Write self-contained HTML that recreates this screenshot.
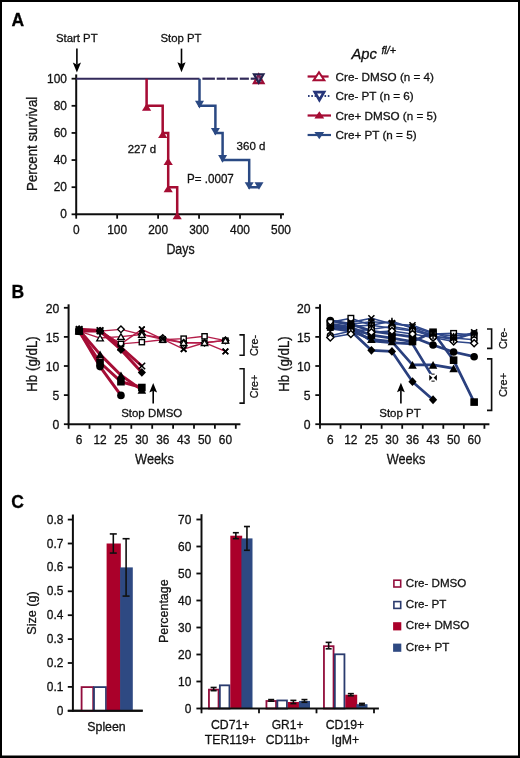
<!DOCTYPE html><html><head><meta charset="utf-8"><title>Figure</title>
<style>html,body{margin:0;padding:0;background:#fff;}body{width:520px;height:758px;overflow:hidden;}svg{display:block;font-family:"Liberation Sans", sans-serif;}text{stroke:#000;stroke-width:0.28px;}</style>
</head><body>
<svg width="520" height="758" viewBox="0 0 520 758" fill="#1a1a1a">
<rect x="0" y="0" width="520" height="758" fill="#fff" stroke="none" stroke-width="1" />
<defs><filter id="b" x="0" y="0" width="520" height="758" filterUnits="userSpaceOnUse"><feGaussianBlur stdDeviation="0.4"/></filter></defs>
<g filter="url(#b)">
<text x="11.4" y="26.3" font-size="17.5" font-weight="bold" fill="#000" >A</text>
<text x="11.6" y="297.6" font-size="17.5" font-weight="bold" fill="#000" >B</text>
<text x="11.2" y="507.6" font-size="17.5" font-weight="bold" fill="#000" >C</text>
<line x1="76.2" y1="74.4" x2="76.2" y2="215.3" stroke="#111" stroke-width="2" />
<line x1="75.2" y1="214.3" x2="284" y2="214.3" stroke="#111" stroke-width="2" />
<line x1="71.6" y1="214.3" x2="76.2" y2="214.3" stroke="#111" stroke-width="1.8" />
<text x="66.9" y="218.3" font-size="11.9" text-anchor="end" >0</text>
<line x1="71.6" y1="187.18" x2="76.2" y2="187.18" stroke="#111" stroke-width="1.8" />
<text x="66.9" y="191.18" font-size="11.9" text-anchor="end" >20</text>
<line x1="71.6" y1="160.06" x2="76.2" y2="160.06" stroke="#111" stroke-width="1.8" />
<text x="66.9" y="164.06" font-size="11.9" text-anchor="end" >40</text>
<line x1="71.6" y1="132.94" x2="76.2" y2="132.94" stroke="#111" stroke-width="1.8" />
<text x="66.9" y="136.94" font-size="11.9" text-anchor="end" >60</text>
<line x1="71.6" y1="105.82" x2="76.2" y2="105.82" stroke="#111" stroke-width="1.8" />
<text x="66.9" y="109.82" font-size="11.9" text-anchor="end" >80</text>
<line x1="71.6" y1="78.7" x2="76.2" y2="78.7" stroke="#111" stroke-width="1.8" />
<text x="66.9" y="82.7" font-size="11.9" text-anchor="end" >100</text>
<line x1="76.2" y1="214.3" x2="76.2" y2="218.7" stroke="#111" stroke-width="1.8" />
<text x="76.2" y="233.5" font-size="11.9" text-anchor="middle" >0</text>
<line x1="117.15" y1="214.3" x2="117.15" y2="218.7" stroke="#111" stroke-width="1.8" />
<text x="117.15" y="233.5" font-size="11.9" text-anchor="middle" >100</text>
<line x1="158.1" y1="214.3" x2="158.1" y2="218.7" stroke="#111" stroke-width="1.8" />
<text x="158.1" y="233.5" font-size="11.9" text-anchor="middle" >200</text>
<line x1="199.05" y1="214.3" x2="199.05" y2="218.7" stroke="#111" stroke-width="1.8" />
<text x="199.05" y="233.5" font-size="11.9" text-anchor="middle" >300</text>
<line x1="240" y1="214.3" x2="240" y2="218.7" stroke="#111" stroke-width="1.8" />
<text x="240" y="233.5" font-size="11.9" text-anchor="middle" >400</text>
<line x1="280.95" y1="214.3" x2="280.95" y2="218.7" stroke="#111" stroke-width="1.8" />
<text x="280.95" y="233.5" font-size="11.9" text-anchor="middle" >500</text>
<text x="180.5" y="254.4" font-size="14.2" text-anchor="middle" textLength="28.2" lengthAdjust="spacingAndGlyphs" >Days</text>
<text x="0" y="0" font-size="14.5" text-anchor="middle" textLength="94.2" lengthAdjust="spacingAndGlyphs" transform="translate(36.8 143.8) rotate(-90)" >Percent survival</text>
<text x="76.8" y="41.5" font-size="11.7" text-anchor="middle" textLength="41.6" lengthAdjust="spacingAndGlyphs" >Start PT</text>
<line x1="76.9" y1="48.6" x2="76.9" y2="64.6" stroke="#000" stroke-width="1.6" />
<path d="M72.8 62.6L76.9 72.6L81 62.6L76.9 64.4Z" fill="#000" stroke="none" stroke-width="1" />
<text x="181" y="41.9" font-size="11.7" text-anchor="middle" textLength="41" lengthAdjust="spacingAndGlyphs" >Stop PT</text>
<line x1="181.5" y1="48.6" x2="181.5" y2="64.3" stroke="#000" stroke-width="1.6" />
<path d="M177.4 62.3L181.5 72.3L185.6 62.3L181.5 64.1Z" fill="#000" stroke="none" stroke-width="1" />
<line x1="76.2" y1="78.7" x2="199.5" y2="78.7" stroke="#322a5a" stroke-width="2.1" />
<line x1="202.4" y1="78.7" x2="214.9" y2="78.7" stroke="#322a5a" stroke-width="2.2" />
<line x1="216.7" y1="78.7" x2="225.3" y2="78.7" stroke="#322a5a" stroke-width="2.2" />
<line x1="226.9" y1="78.7" x2="237.9" y2="78.7" stroke="#322a5a" stroke-width="2.2" />
<line x1="239.8" y1="78.7" x2="248.9" y2="78.7" stroke="#322a5a" stroke-width="2.2" />
<line x1="250.7" y1="78.7" x2="256" y2="78.7" stroke="#322a5a" stroke-width="2.2" />
<polyline points="146.6,78.7 146.6,105.82 162.7,105.82 162.7,132.94 168.2,132.94 168.2,187.18 177.2,187.18 177.2,214.3" stroke="#a50832" stroke-width="2.5" fill="none" stroke-linejoin="miter"/>
<path d="M146.6 103.62L151.2 110.82L142 110.82Z" fill="#a50832" stroke="none" stroke-width="0" stroke-linejoin="miter"/>
<path d="M162.7 130.74L167.3 137.94L158.1 137.94Z" fill="#a50832" stroke="none" stroke-width="0" stroke-linejoin="miter"/>
<path d="M168.2 157.86L172.8 165.06L163.6 165.06Z" fill="#a50832" stroke="none" stroke-width="0" stroke-linejoin="miter"/>
<path d="M168.2 184.98L172.8 192.18L163.6 192.18Z" fill="#a50832" stroke="none" stroke-width="0" stroke-linejoin="miter"/>
<path d="M177.2 212.1L181.8 219.3L172.6 219.3Z" fill="#a50832" stroke="none" stroke-width="0" stroke-linejoin="miter"/>
<polyline points="199.5,78.7 199.5,105.82 215.4,105.82 215.4,132.94 222.6,132.94 222.6,160.06 249.2,160.06 249.2,187.18 259,187.18" stroke="#2b4983" stroke-width="2.5" fill="none" stroke-linejoin="miter"/>
<path d="M195 100.82L204 100.82L199.5 108.42Z" fill="#2b4983" stroke="none" stroke-width="0" stroke-linejoin="miter"/>
<path d="M210.9 127.94L219.9 127.94L215.4 135.54Z" fill="#2b4983" stroke="none" stroke-width="0" stroke-linejoin="miter"/>
<path d="M218.1 155.06L227.1 155.06L222.6 162.66Z" fill="#2b4983" stroke="none" stroke-width="0" stroke-linejoin="miter"/>
<path d="M244.7 182.18L253.7 182.18L249.2 189.78Z" fill="#2b4983" stroke="none" stroke-width="0" stroke-linejoin="miter"/>
<path d="M254.5 182.18L263.5 182.18L259 189.78Z" fill="#2b4983" stroke="none" stroke-width="0" stroke-linejoin="miter"/>
<path d="M258.7 74.6L263.5 83.2L253.9 83.2Z" fill="rgba(120,70,130,0.45)" stroke="#9c0c36" stroke-width="2.2" stroke-linejoin="miter"/>
<path d="M253.9 74.2L263.5 74.2L258.7 82.8Z" fill="rgba(90,60,120,0.45)" stroke="#23244e" stroke-width="2.1" stroke-linejoin="miter"/>
<text x="141.9" y="153" font-size="11.7" text-anchor="middle" textLength="28.5" lengthAdjust="spacingAndGlyphs" >227 d</text>
<text x="251" y="149.6" font-size="11.7" text-anchor="middle" textLength="28.8" lengthAdjust="spacingAndGlyphs" >360 d</text>
<text x="210.4" y="182.5" font-size="11.9" text-anchor="middle" textLength="46.8" lengthAdjust="spacingAndGlyphs" >P= .0007</text>
<text x="351.4" y="59.3" font-size="14.6" textLength="25.4" lengthAdjust="spacingAndGlyphs" font-style="italic" fill="#111" >Apc</text>
<text x="381.4" y="54.4" font-size="10.2" textLength="14.6" lengthAdjust="spacingAndGlyphs" font-style="italic" fill="#111" >fl/+</text>
<line x1="307.6" y1="76.5" x2="328.6" y2="76.5" stroke="#a50832" stroke-width="2.2" />
<path d="M319 72.2L324.3 80.2L313.7 80.2Z" fill="#fff" stroke="#a50832" stroke-width="2" stroke-linejoin="miter"/>
<line x1="308" y1="96" x2="331" y2="96" stroke="#2d3f7a" stroke-width="1.8" stroke-dasharray="1.6 1.7"/>
<path d="M314.8 92.2L324 92.2L319.4 100Z" fill="#fff" stroke="#25357a" stroke-width="2.7" stroke-linejoin="miter"/>
<line x1="307.6" y1="115.5" x2="331" y2="115.5" stroke="#a50832" stroke-width="2.2" />
<path d="M319.3 111.2L324.2 118.6L314.4 118.6Z" fill="#a50832" stroke="none" stroke-width="0" stroke-linejoin="miter"/>
<line x1="307.6" y1="135" x2="331" y2="135" stroke="#2b4983" stroke-width="2.2" />
<path d="M314.4 131.9L324.2 131.9L319.3 139.3Z" fill="#2b4983" stroke="none" stroke-width="0" stroke-linejoin="miter"/>
<text x="335.6" y="80.8" font-size="11.7" >Cre- DMSO (n = 4)</text>
<text x="335.6" y="100.3" font-size="11.7" >Cre- PT (n = 6)</text>
<text x="335.6" y="119.8" font-size="11.7" >Cre+ DMSO (n = 5)</text>
<text x="335.6" y="139.3" font-size="11.7" >Cre+ PT (n = 5)</text>
<line x1="68.6" y1="304.3" x2="68.6" y2="425" stroke="#111" stroke-width="2" />
<line x1="63.9" y1="424.2" x2="68.6" y2="424.2" stroke="#111" stroke-width="1.8" />
<text x="59.2" y="429" font-size="12.2" text-anchor="end" >0</text>
<line x1="63.9" y1="395.1" x2="68.6" y2="395.1" stroke="#111" stroke-width="1.8" />
<text x="59.2" y="399.9" font-size="12.2" text-anchor="end" >5</text>
<line x1="63.9" y1="366" x2="68.6" y2="366" stroke="#111" stroke-width="1.8" />
<text x="59.2" y="370.8" font-size="12.2" text-anchor="end" >10</text>
<line x1="63.9" y1="336.9" x2="68.6" y2="336.9" stroke="#111" stroke-width="1.8" />
<text x="59.2" y="341.7" font-size="12.2" text-anchor="end" >15</text>
<line x1="63.9" y1="307.8" x2="68.6" y2="307.8" stroke="#111" stroke-width="1.8" />
<text x="59.2" y="312.6" font-size="12.2" text-anchor="end" >20</text>
<line x1="67.6" y1="424.2" x2="240.4" y2="424.2" stroke="#111" stroke-width="2" />
<line x1="68.6" y1="424.2" x2="68.6" y2="428.8" stroke="#111" stroke-width="1.8" />
<line x1="89.5" y1="424.2" x2="89.5" y2="428.8" stroke="#111" stroke-width="1.8" />
<line x1="110.4" y1="424.2" x2="110.4" y2="428.8" stroke="#111" stroke-width="1.8" />
<line x1="131.3" y1="424.2" x2="131.3" y2="428.8" stroke="#111" stroke-width="1.8" />
<line x1="152.2" y1="424.2" x2="152.2" y2="428.8" stroke="#111" stroke-width="1.8" />
<line x1="173.1" y1="424.2" x2="173.1" y2="428.8" stroke="#111" stroke-width="1.8" />
<line x1="194" y1="424.2" x2="194" y2="428.8" stroke="#111" stroke-width="1.8" />
<line x1="214.9" y1="424.2" x2="214.9" y2="428.8" stroke="#111" stroke-width="1.8" />
<line x1="235.8" y1="424.2" x2="235.8" y2="428.8" stroke="#111" stroke-width="1.8" />
<text x="79.15" y="444" font-size="11.9" text-anchor="middle" >6</text>
<text x="100.05" y="444" font-size="11.9" text-anchor="middle" >12</text>
<text x="120.95" y="444" font-size="11.9" text-anchor="middle" >25</text>
<text x="141.85" y="444" font-size="11.9" text-anchor="middle" >30</text>
<text x="162.75" y="444" font-size="11.9" text-anchor="middle" >36</text>
<text x="183.65" y="444" font-size="11.9" text-anchor="middle" >43</text>
<text x="204.55" y="444" font-size="11.9" text-anchor="middle" >50</text>
<text x="225.45" y="444" font-size="11.9" text-anchor="middle" >60</text>
<text x="154.5" y="464.4" font-size="14.8" text-anchor="middle" textLength="38.8" lengthAdjust="spacingAndGlyphs" >Weeks</text>
<text x="0" y="0" font-size="14.4" text-anchor="middle" textLength="55.6" lengthAdjust="spacingAndGlyphs" transform="translate(36.9 364) rotate(-90)" >Hb (g/dL)</text>
<polyline points="79.15,329.33 100.05,331.08 120.95,343.88 141.85,329.33 162.75,339.23 183.65,349.12 204.55,342.72 225.45,351.45" stroke="#b41e4a" stroke-width="1.4" fill="none" stroke-linejoin="round"/>
<polyline points="79.15,331.08 100.05,331.08 120.95,343.88 141.85,342.14 162.75,339.81 183.65,338.65 204.55,336.32 225.45,340.68" stroke="#b41e4a" stroke-width="1.4" fill="none" stroke-linejoin="round"/>
<polyline points="79.15,329.33 100.05,331.08 120.95,329.33 141.85,334.57 162.75,338.06 183.65,342.72 204.55,342.72 225.45,340.39" stroke="#b41e4a" stroke-width="1.4" fill="none" stroke-linejoin="round"/>
<polyline points="79.15,331.08 100.05,338.06 120.95,336.61 141.85,334.57 162.75,339.23 183.65,342.72 204.55,342.72 225.45,340.39" stroke="#b41e4a" stroke-width="1.4" fill="none" stroke-linejoin="round"/>
<polyline points="79.15,331.08 100.05,366.58 120.95,395.39" stroke="#a50a36" stroke-width="3" fill="none" stroke-linejoin="round"/>
<polyline points="79.15,329.92 100.05,354.36 120.95,375.31 141.85,389.86" stroke="#a50a36" stroke-width="3" fill="none" stroke-linejoin="round"/>
<polyline points="79.15,331.08 100.05,362.51 120.95,381.71 141.85,387.53" stroke="#a50a36" stroke-width="3" fill="none" stroke-linejoin="round"/>
<polyline points="79.15,331.08 100.05,331.08 120.95,349.7 141.85,372.4" stroke="#a50a36" stroke-width="3" fill="none" stroke-linejoin="round"/>
<polyline points="79.15,329.33 100.05,330.5 120.95,347.38 141.85,366" stroke="#a50a36" stroke-width="3" fill="none" stroke-linejoin="round"/>
<line x1="76.35" y1="326.53" x2="81.95" y2="332.13" stroke="#000" stroke-width="1.6" />
<line x1="76.35" y1="332.13" x2="81.95" y2="326.53" stroke="#000" stroke-width="1.6" />
<line x1="97.25" y1="328.28" x2="102.85" y2="333.88" stroke="#000" stroke-width="1.6" />
<line x1="97.25" y1="333.88" x2="102.85" y2="328.28" stroke="#000" stroke-width="1.6" />
<line x1="118.15" y1="341.08" x2="123.75" y2="346.68" stroke="#000" stroke-width="1.6" />
<line x1="118.15" y1="346.68" x2="123.75" y2="341.08" stroke="#000" stroke-width="1.6" />
<line x1="139.05" y1="326.53" x2="144.65" y2="332.13" stroke="#000" stroke-width="1.6" />
<line x1="139.05" y1="332.13" x2="144.65" y2="326.53" stroke="#000" stroke-width="1.6" />
<line x1="159.95" y1="336.43" x2="165.55" y2="342.03" stroke="#000" stroke-width="1.6" />
<line x1="159.95" y1="342.03" x2="165.55" y2="336.43" stroke="#000" stroke-width="1.6" />
<line x1="180.85" y1="346.32" x2="186.45" y2="351.92" stroke="#000" stroke-width="1.6" />
<line x1="180.85" y1="351.92" x2="186.45" y2="346.32" stroke="#000" stroke-width="1.6" />
<line x1="201.75" y1="339.92" x2="207.35" y2="345.52" stroke="#000" stroke-width="1.6" />
<line x1="201.75" y1="345.52" x2="207.35" y2="339.92" stroke="#000" stroke-width="1.6" />
<line x1="222.65" y1="348.65" x2="228.25" y2="354.25" stroke="#000" stroke-width="1.6" />
<line x1="222.65" y1="354.25" x2="228.25" y2="348.65" stroke="#000" stroke-width="1.6" />
<rect x="76.55" y="328.48" width="5.2" height="5.2" fill="#fff" stroke="#000" stroke-width="1.4" />
<rect x="97.45" y="328.48" width="5.2" height="5.2" fill="#fff" stroke="#000" stroke-width="1.4" />
<rect x="118.35" y="341.28" width="5.2" height="5.2" fill="#fff" stroke="#000" stroke-width="1.4" />
<rect x="139.25" y="339.54" width="5.2" height="5.2" fill="#fff" stroke="#000" stroke-width="1.4" />
<rect x="160.15" y="337.21" width="5.2" height="5.2" fill="#fff" stroke="#000" stroke-width="1.4" />
<rect x="181.05" y="336.05" width="5.2" height="5.2" fill="#fff" stroke="#000" stroke-width="1.4" />
<rect x="201.95" y="333.72" width="5.2" height="5.2" fill="#fff" stroke="#000" stroke-width="1.4" />
<rect x="222.85" y="338.08" width="5.2" height="5.2" fill="#fff" stroke="#000" stroke-width="1.4" />
<path d="M79.15 326.03L82.45 329.33L79.15 332.63L75.85 329.33Z" fill="#fff" stroke="#000" stroke-width="1.4" />
<path d="M100.05 327.78L103.35 331.08L100.05 334.38L96.75 331.08Z" fill="#fff" stroke="#000" stroke-width="1.4" />
<path d="M120.95 326.03L124.25 329.33L120.95 332.63L117.65 329.33Z" fill="#fff" stroke="#000" stroke-width="1.4" />
<path d="M141.85 331.27L145.15 334.57L141.85 337.87L138.55 334.57Z" fill="#fff" stroke="#000" stroke-width="1.4" />
<path d="M162.75 334.76L166.05 338.06L162.75 341.36L159.45 338.06Z" fill="#fff" stroke="#000" stroke-width="1.4" />
<path d="M183.65 339.42L186.95 342.72L183.65 346.02L180.35 342.72Z" fill="#fff" stroke="#000" stroke-width="1.4" />
<path d="M204.55 339.42L207.85 342.72L204.55 346.02L201.25 342.72Z" fill="#fff" stroke="#000" stroke-width="1.4" />
<path d="M225.45 337.09L228.75 340.39L225.45 343.69L222.15 340.39Z" fill="#fff" stroke="#000" stroke-width="1.4" />
<path d="M79.15 328.28L82.45 333.88L75.85 333.88Z" fill="#fff" stroke="#000" stroke-width="1.3" stroke-linejoin="miter"/>
<path d="M100.05 335.26L103.35 340.86L96.75 340.86Z" fill="#fff" stroke="#000" stroke-width="1.3" stroke-linejoin="miter"/>
<path d="M120.95 333.81L124.25 339.41L117.65 339.41Z" fill="#fff" stroke="#000" stroke-width="1.3" stroke-linejoin="miter"/>
<path d="M141.85 331.77L145.15 337.37L138.55 337.37Z" fill="#fff" stroke="#000" stroke-width="1.3" stroke-linejoin="miter"/>
<path d="M162.75 336.43L166.05 342.03L159.45 342.03Z" fill="#fff" stroke="#000" stroke-width="1.3" stroke-linejoin="miter"/>
<path d="M183.65 339.92L186.95 345.52L180.35 345.52Z" fill="#fff" stroke="#000" stroke-width="1.3" stroke-linejoin="miter"/>
<path d="M204.55 339.92L207.85 345.52L201.25 345.52Z" fill="#fff" stroke="#000" stroke-width="1.3" stroke-linejoin="miter"/>
<path d="M225.45 337.59L228.75 343.19L222.15 343.19Z" fill="#fff" stroke="#000" stroke-width="1.3" stroke-linejoin="miter"/>
<line x1="139.05" y1="326.53" x2="144.65" y2="332.13" stroke="#000" stroke-width="1.6" />
<line x1="139.05" y1="332.13" x2="144.65" y2="326.53" stroke="#000" stroke-width="1.6" />
<line x1="159.95" y1="336.43" x2="165.55" y2="342.03" stroke="#000" stroke-width="1.6" />
<line x1="159.95" y1="342.03" x2="165.55" y2="336.43" stroke="#000" stroke-width="1.6" />
<line x1="180.85" y1="346.32" x2="186.45" y2="351.92" stroke="#000" stroke-width="1.6" />
<line x1="180.85" y1="351.92" x2="186.45" y2="346.32" stroke="#000" stroke-width="1.6" />
<line x1="222.65" y1="348.65" x2="228.25" y2="354.25" stroke="#000" stroke-width="1.6" />
<line x1="222.65" y1="354.25" x2="228.25" y2="348.65" stroke="#000" stroke-width="1.6" />
<circle cx="79.15" cy="331.08" r="3.8" fill="#000"/>
<circle cx="100.05" cy="366.58" r="3.8" fill="#000"/>
<circle cx="120.95" cy="395.39" r="3.8" fill="#000"/>
<path d="M79.15 326.12L83.45 333.72L74.85 333.72Z" fill="#000" stroke="none" stroke-width="0" stroke-linejoin="miter"/>
<path d="M100.05 350.56L104.35 358.16L95.75 358.16Z" fill="#000" stroke="none" stroke-width="0" stroke-linejoin="miter"/>
<path d="M120.95 371.51L125.25 379.11L116.65 379.11Z" fill="#000" stroke="none" stroke-width="0" stroke-linejoin="miter"/>
<path d="M141.85 386.06L146.15 393.66L137.55 393.66Z" fill="#000" stroke="none" stroke-width="0" stroke-linejoin="miter"/>
<rect x="75.35" y="327.28" width="7.6" height="7.6" fill="#000" stroke="none" stroke-width="1" />
<rect x="96.25" y="358.71" width="7.6" height="7.6" fill="#000" stroke="none" stroke-width="1" />
<rect x="117.15" y="377.91" width="7.6" height="7.6" fill="#000" stroke="none" stroke-width="1" />
<rect x="138.05" y="383.73" width="7.6" height="7.6" fill="#000" stroke="none" stroke-width="1" />
<path d="M79.15 326.68L83.25 331.08L79.15 335.48L75.05 331.08Z" fill="#000" stroke="none" stroke-width="1" />
<path d="M100.05 326.68L104.15 331.08L100.05 335.48L95.95 331.08Z" fill="#000" stroke="none" stroke-width="1" />
<path d="M120.95 345.3L125.05 349.7L120.95 354.1L116.85 349.7Z" fill="#000" stroke="none" stroke-width="1" />
<path d="M141.85 368L145.95 372.4L141.85 376.8L137.75 372.4Z" fill="#000" stroke="none" stroke-width="1" />
<line x1="75.85" y1="326.03" x2="82.45" y2="332.63" stroke="#000" stroke-width="1.6" />
<line x1="75.85" y1="332.63" x2="82.45" y2="326.03" stroke="#000" stroke-width="1.6" />
<line x1="96.75" y1="327.2" x2="103.35" y2="333.8" stroke="#000" stroke-width="1.6" />
<line x1="96.75" y1="333.8" x2="103.35" y2="327.2" stroke="#000" stroke-width="1.6" />
<line x1="117.65" y1="344.08" x2="124.25" y2="350.68" stroke="#000" stroke-width="1.6" />
<line x1="117.65" y1="350.68" x2="124.25" y2="344.08" stroke="#000" stroke-width="1.6" />
<line x1="138.55" y1="362.7" x2="145.15" y2="369.3" stroke="#000" stroke-width="1.6" />
<line x1="138.55" y1="369.3" x2="145.15" y2="362.7" stroke="#000" stroke-width="1.6" />
<line x1="153.2" y1="390.5" x2="153.2" y2="403.5" stroke="#000" stroke-width="1.6" />
<path d="M149.3 392.5L153.2 383L157.1 392.5L153.2 390.79Z" fill="#000" stroke="none" stroke-width="1" />
<text x="151.7" y="416.8" font-size="11.6" text-anchor="middle" textLength="61" lengthAdjust="spacingAndGlyphs" >Stop DMSO</text>
<polyline points="239.4,334.9 244,334.9 244,355.2 239.4,355.2" stroke="#111" stroke-width="1.6" fill="none" stroke-linejoin="miter"/>
<polyline points="239.4,368.7 244,368.7 244,403.1 239.4,403.1" stroke="#111" stroke-width="1.6" fill="none" stroke-linejoin="miter"/>
<text x="0" y="0" font-size="11.5" text-anchor="middle" textLength="21" lengthAdjust="spacingAndGlyphs" transform="translate(258.3 345.5) rotate(-90)" >Cre-</text>
<text x="0" y="0" font-size="11.5" text-anchor="middle" textLength="23.4" lengthAdjust="spacingAndGlyphs" transform="translate(258.3 386.5) rotate(-90)" >Cre+</text>
<line x1="320" y1="304.3" x2="320" y2="425" stroke="#111" stroke-width="2" />
<line x1="315.3" y1="424.2" x2="320" y2="424.2" stroke="#111" stroke-width="1.8" />
<text x="310.6" y="429" font-size="12.2" text-anchor="end" >0</text>
<line x1="315.3" y1="395.1" x2="320" y2="395.1" stroke="#111" stroke-width="1.8" />
<text x="310.6" y="399.9" font-size="12.2" text-anchor="end" >5</text>
<line x1="315.3" y1="366" x2="320" y2="366" stroke="#111" stroke-width="1.8" />
<text x="310.6" y="370.8" font-size="12.2" text-anchor="end" >10</text>
<line x1="315.3" y1="336.9" x2="320" y2="336.9" stroke="#111" stroke-width="1.8" />
<text x="310.6" y="341.7" font-size="12.2" text-anchor="end" >15</text>
<line x1="315.3" y1="307.8" x2="320" y2="307.8" stroke="#111" stroke-width="1.8" />
<text x="310.6" y="312.6" font-size="12.2" text-anchor="end" >20</text>
<line x1="319" y1="424.2" x2="489.4" y2="424.2" stroke="#111" stroke-width="2" />
<line x1="320" y1="424.2" x2="320" y2="428.8" stroke="#111" stroke-width="1.8" />
<line x1="340.55" y1="424.2" x2="340.55" y2="428.8" stroke="#111" stroke-width="1.8" />
<line x1="361.1" y1="424.2" x2="361.1" y2="428.8" stroke="#111" stroke-width="1.8" />
<line x1="381.65" y1="424.2" x2="381.65" y2="428.8" stroke="#111" stroke-width="1.8" />
<line x1="402.2" y1="424.2" x2="402.2" y2="428.8" stroke="#111" stroke-width="1.8" />
<line x1="422.75" y1="424.2" x2="422.75" y2="428.8" stroke="#111" stroke-width="1.8" />
<line x1="443.3" y1="424.2" x2="443.3" y2="428.8" stroke="#111" stroke-width="1.8" />
<line x1="463.85" y1="424.2" x2="463.85" y2="428.8" stroke="#111" stroke-width="1.8" />
<line x1="484.4" y1="424.2" x2="484.4" y2="428.8" stroke="#111" stroke-width="1.8" />
<text x="330.3" y="444" font-size="11.9" text-anchor="middle" >6</text>
<text x="350.85" y="444" font-size="11.9" text-anchor="middle" >12</text>
<text x="371.4" y="444" font-size="11.9" text-anchor="middle" >25</text>
<text x="391.95" y="444" font-size="11.9" text-anchor="middle" >30</text>
<text x="412.5" y="444" font-size="11.9" text-anchor="middle" >36</text>
<text x="433.05" y="444" font-size="11.9" text-anchor="middle" >43</text>
<text x="453.6" y="444" font-size="11.9" text-anchor="middle" >50</text>
<text x="474.15" y="444" font-size="11.9" text-anchor="middle" >60</text>
<text x="406" y="464.4" font-size="14.8" text-anchor="middle" textLength="38.6" lengthAdjust="spacingAndGlyphs" >Weeks</text>
<text x="0" y="0" font-size="14.4" text-anchor="middle" textLength="55.6" lengthAdjust="spacingAndGlyphs" transform="translate(288.9 364) rotate(-90)" >Hb (g/dL)</text>
<polyline points="330.3,322.35 350.85,318.28 371.4,325.26 391.95,328.17 412.5,331.08 433.05,333.99 453.6,333.41 474.15,335.15" stroke="#2f4789" stroke-width="1.6" fill="none" stroke-linejoin="round"/>
<polyline points="330.3,335.74 350.85,331.08 371.4,329.33 391.95,326.42 412.5,329.92 433.05,336.9 453.6,338.06 474.15,339.81" stroke="#2f4789" stroke-width="1.6" fill="none" stroke-linejoin="round"/>
<polyline points="330.3,325.26 350.85,322.35 371.4,318.28 391.95,324.1 412.5,325.26 433.05,332.83 453.6,339.23 474.15,332.24" stroke="#2f4789" stroke-width="1.6" fill="none" stroke-linejoin="round"/>
<polyline points="330.3,327.59 350.85,324.1 371.4,321.77 391.95,322.93 412.5,327.01 433.05,333.41 453.6,336.32 474.15,333.41" stroke="#2f4789" stroke-width="1.6" fill="none" stroke-linejoin="round"/>
<polyline points="330.3,337.48 350.85,333.99 371.4,332.24 391.95,331.08 412.5,333.99 433.05,337.48 453.6,341.56 474.15,343.3" stroke="#2f4789" stroke-width="1.6" fill="none" stroke-linejoin="round"/>
<polyline points="330.3,329.92 350.85,326.42 371.4,325.26 391.95,321.19 412.5,328.17 433.05,335.74 453.6,339.81 474.15,333.41" stroke="#2f4789" stroke-width="1.6" fill="none" stroke-linejoin="round"/>
<polyline points="330.3,328.17 350.85,331.08 371.4,350.29 391.95,351.45 412.5,381.71 433.05,399.76" stroke="#293f7e" stroke-width="2.7" fill="none" stroke-linejoin="round"/>
<polyline points="330.3,325.26 350.85,331.08 371.4,339.23 391.95,341.56 412.5,364.84 433.05,364.84 453.6,368.33" stroke="#293f7e" stroke-width="2.7" fill="none" stroke-linejoin="round"/>
<polyline points="330.3,326.42 350.85,328.17 371.4,340.97 391.95,342.72 412.5,343.88 433.05,377.64" stroke="#293f7e" stroke-width="2.7" fill="none" stroke-linejoin="round"/>
<polyline points="330.3,320.6 350.85,324.1 371.4,331.08 391.95,333.99 412.5,336.9 433.05,345.05 453.6,352.03 474.15,356.69" stroke="#293f7e" stroke-width="2.7" fill="none" stroke-linejoin="round"/>
<polyline points="330.3,324.1 350.85,327.59 371.4,335.15 391.95,338.06 412.5,341.56 433.05,332.24 453.6,360.18 474.15,402.08" stroke="#293f7e" stroke-width="2.7" fill="none" stroke-linejoin="round"/>
<path d="M330.3 323.77L334.4 328.17L330.3 332.57L326.2 328.17Z" fill="#000" stroke="none" stroke-width="1" />
<path d="M350.85 326.68L354.95 331.08L350.85 335.48L346.75 331.08Z" fill="#000" stroke="none" stroke-width="1" />
<path d="M371.4 345.89L375.5 350.29L371.4 354.69L367.3 350.29Z" fill="#000" stroke="none" stroke-width="1" />
<path d="M391.95 347.05L396.05 351.45L391.95 355.85L387.85 351.45Z" fill="#000" stroke="none" stroke-width="1" />
<path d="M412.5 377.31L416.6 381.71L412.5 386.11L408.4 381.71Z" fill="#000" stroke="none" stroke-width="1" />
<path d="M433.05 395.36L437.15 399.76L433.05 404.16L428.95 399.76Z" fill="#000" stroke="none" stroke-width="1" />
<path d="M330.3 321.46L334.6 329.06L326 329.06Z" fill="#000" stroke="none" stroke-width="0" stroke-linejoin="miter"/>
<path d="M350.85 327.28L355.15 334.88L346.55 334.88Z" fill="#000" stroke="none" stroke-width="0" stroke-linejoin="miter"/>
<path d="M371.4 335.43L375.7 343.03L367.1 343.03Z" fill="#000" stroke="none" stroke-width="0" stroke-linejoin="miter"/>
<path d="M391.95 337.76L396.25 345.36L387.65 345.36Z" fill="#000" stroke="none" stroke-width="0" stroke-linejoin="miter"/>
<path d="M412.5 361.04L416.8 368.64L408.2 368.64Z" fill="#000" stroke="none" stroke-width="0" stroke-linejoin="miter"/>
<path d="M433.05 361.04L437.35 368.64L428.75 368.64Z" fill="#000" stroke="none" stroke-width="0" stroke-linejoin="miter"/>
<path d="M453.6 364.53L457.9 372.13L449.3 372.13Z" fill="#000" stroke="none" stroke-width="0" stroke-linejoin="miter"/>
<rect x="429.25" y="373.84" width="7.6" height="7.6" fill="#fff" stroke="none" stroke-width="1" />
<path d="M429.25 374.64L432.45 377.64L429.25 380.64Z" fill="#000" stroke="none" stroke-width="1" />
<path d="M436.85 374.64L433.65 377.64L436.85 380.64Z" fill="#000" stroke="none" stroke-width="1" />
<line x1="431.45" y1="374.14" x2="434.65" y2="374.14" stroke="#000" stroke-width="1" />
<line x1="431.45" y1="381.14" x2="434.65" y2="381.14" stroke="#000" stroke-width="1" />
<circle cx="330.3" cy="320.6" r="3.8" fill="#000"/>
<circle cx="350.85" cy="324.1" r="3.8" fill="#000"/>
<circle cx="371.4" cy="331.08" r="3.8" fill="#000"/>
<circle cx="391.95" cy="333.99" r="3.8" fill="#000"/>
<circle cx="412.5" cy="336.9" r="3.8" fill="#000"/>
<circle cx="433.05" cy="345.05" r="3.8" fill="#000"/>
<circle cx="453.6" cy="352.03" r="3.8" fill="#000"/>
<circle cx="474.15" cy="356.69" r="3.8" fill="#000"/>
<rect x="326.5" y="320.3" width="7.6" height="7.6" fill="#000" stroke="none" stroke-width="1" />
<rect x="347.05" y="323.79" width="7.6" height="7.6" fill="#000" stroke="none" stroke-width="1" />
<rect x="367.6" y="331.35" width="7.6" height="7.6" fill="#000" stroke="none" stroke-width="1" />
<rect x="388.15" y="334.26" width="7.6" height="7.6" fill="#000" stroke="none" stroke-width="1" />
<rect x="408.7" y="337.76" width="7.6" height="7.6" fill="#000" stroke="none" stroke-width="1" />
<rect x="429.25" y="328.44" width="7.6" height="7.6" fill="#000" stroke="none" stroke-width="1" />
<rect x="449.8" y="356.38" width="7.6" height="7.6" fill="#000" stroke="none" stroke-width="1" />
<rect x="470.35" y="398.28" width="7.6" height="7.6" fill="#000" stroke="none" stroke-width="1" />
<rect x="327.5" y="319.55" width="5.6" height="5.6" fill="#fff" stroke="#000" stroke-width="1.4" />
<rect x="348.05" y="315.48" width="5.6" height="5.6" fill="#fff" stroke="#000" stroke-width="1.4" />
<rect x="368.6" y="322.46" width="5.6" height="5.6" fill="#fff" stroke="#000" stroke-width="1.4" />
<rect x="389.15" y="325.37" width="5.6" height="5.6" fill="#fff" stroke="#000" stroke-width="1.4" />
<rect x="409.7" y="328.28" width="5.6" height="5.6" fill="#fff" stroke="#000" stroke-width="1.4" />
<rect x="430.25" y="331.19" width="5.6" height="5.6" fill="#fff" stroke="#000" stroke-width="1.4" />
<rect x="450.8" y="330.61" width="5.6" height="5.6" fill="#fff" stroke="#000" stroke-width="1.4" />
<rect x="471.35" y="332.35" width="5.6" height="5.6" fill="#fff" stroke="#000" stroke-width="1.4" />
<circle cx="330.3" cy="335.74" r="2.9" fill="#fff" stroke="#000" stroke-width="1.5"/>
<circle cx="350.85" cy="331.08" r="2.9" fill="#fff" stroke="#000" stroke-width="1.5"/>
<circle cx="371.4" cy="329.33" r="2.9" fill="#fff" stroke="#000" stroke-width="1.5"/>
<circle cx="391.95" cy="326.42" r="2.9" fill="#fff" stroke="#000" stroke-width="1.5"/>
<circle cx="412.5" cy="329.92" r="2.9" fill="#fff" stroke="#000" stroke-width="1.5"/>
<circle cx="433.05" cy="336.9" r="2.9" fill="#fff" stroke="#000" stroke-width="1.5"/>
<circle cx="453.6" cy="338.06" r="2.9" fill="#fff" stroke="#000" stroke-width="1.5"/>
<circle cx="474.15" cy="339.81" r="2.9" fill="#fff" stroke="#000" stroke-width="1.5"/>
<line x1="327.3" y1="322.26" x2="333.3" y2="328.26" stroke="#000" stroke-width="1.6" />
<line x1="327.3" y1="328.26" x2="333.3" y2="322.26" stroke="#000" stroke-width="1.6" />
<line x1="347.85" y1="319.35" x2="353.85" y2="325.35" stroke="#000" stroke-width="1.6" />
<line x1="347.85" y1="325.35" x2="353.85" y2="319.35" stroke="#000" stroke-width="1.6" />
<line x1="368.4" y1="315.28" x2="374.4" y2="321.28" stroke="#000" stroke-width="1.6" />
<line x1="368.4" y1="321.28" x2="374.4" y2="315.28" stroke="#000" stroke-width="1.6" />
<line x1="388.95" y1="321.1" x2="394.95" y2="327.1" stroke="#000" stroke-width="1.6" />
<line x1="388.95" y1="327.1" x2="394.95" y2="321.1" stroke="#000" stroke-width="1.6" />
<line x1="409.5" y1="322.26" x2="415.5" y2="328.26" stroke="#000" stroke-width="1.6" />
<line x1="409.5" y1="328.26" x2="415.5" y2="322.26" stroke="#000" stroke-width="1.6" />
<line x1="430.05" y1="329.83" x2="436.05" y2="335.83" stroke="#000" stroke-width="1.6" />
<line x1="430.05" y1="335.83" x2="436.05" y2="329.83" stroke="#000" stroke-width="1.6" />
<line x1="450.6" y1="336.23" x2="456.6" y2="342.23" stroke="#000" stroke-width="1.6" />
<line x1="450.6" y1="342.23" x2="456.6" y2="336.23" stroke="#000" stroke-width="1.6" />
<line x1="471.15" y1="329.24" x2="477.15" y2="335.24" stroke="#000" stroke-width="1.6" />
<line x1="471.15" y1="335.24" x2="477.15" y2="329.24" stroke="#000" stroke-width="1.6" />
<line x1="327.3" y1="324.59" x2="333.3" y2="330.59" stroke="#000" stroke-width="1.4" />
<line x1="327.3" y1="330.59" x2="333.3" y2="324.59" stroke="#000" stroke-width="1.4" />
<line x1="330.3" y1="324.09" x2="330.3" y2="331.09" stroke="#000" stroke-width="1.4" />
<line x1="347.85" y1="321.1" x2="353.85" y2="327.1" stroke="#000" stroke-width="1.4" />
<line x1="347.85" y1="327.1" x2="353.85" y2="321.1" stroke="#000" stroke-width="1.4" />
<line x1="350.85" y1="320.6" x2="350.85" y2="327.6" stroke="#000" stroke-width="1.4" />
<line x1="368.4" y1="318.77" x2="374.4" y2="324.77" stroke="#000" stroke-width="1.4" />
<line x1="368.4" y1="324.77" x2="374.4" y2="318.77" stroke="#000" stroke-width="1.4" />
<line x1="371.4" y1="318.27" x2="371.4" y2="325.27" stroke="#000" stroke-width="1.4" />
<line x1="388.95" y1="319.93" x2="394.95" y2="325.93" stroke="#000" stroke-width="1.4" />
<line x1="388.95" y1="325.93" x2="394.95" y2="319.93" stroke="#000" stroke-width="1.4" />
<line x1="391.95" y1="319.43" x2="391.95" y2="326.43" stroke="#000" stroke-width="1.4" />
<line x1="409.5" y1="324.01" x2="415.5" y2="330.01" stroke="#000" stroke-width="1.4" />
<line x1="409.5" y1="330.01" x2="415.5" y2="324.01" stroke="#000" stroke-width="1.4" />
<line x1="412.5" y1="323.51" x2="412.5" y2="330.51" stroke="#000" stroke-width="1.4" />
<line x1="430.05" y1="330.41" x2="436.05" y2="336.41" stroke="#000" stroke-width="1.4" />
<line x1="430.05" y1="336.41" x2="436.05" y2="330.41" stroke="#000" stroke-width="1.4" />
<line x1="433.05" y1="329.91" x2="433.05" y2="336.91" stroke="#000" stroke-width="1.4" />
<line x1="450.6" y1="333.32" x2="456.6" y2="339.32" stroke="#000" stroke-width="1.4" />
<line x1="450.6" y1="339.32" x2="456.6" y2="333.32" stroke="#000" stroke-width="1.4" />
<line x1="453.6" y1="332.82" x2="453.6" y2="339.82" stroke="#000" stroke-width="1.4" />
<line x1="471.15" y1="330.41" x2="477.15" y2="336.41" stroke="#000" stroke-width="1.4" />
<line x1="471.15" y1="336.41" x2="477.15" y2="330.41" stroke="#000" stroke-width="1.4" />
<line x1="474.15" y1="329.91" x2="474.15" y2="336.91" stroke="#000" stroke-width="1.4" />
<path d="M330.3 333.98L333.8 337.48L330.3 340.98L326.8 337.48Z" fill="#fff" stroke="#000" stroke-width="1.4" />
<path d="M350.85 330.49L354.35 333.99L350.85 337.49L347.35 333.99Z" fill="#fff" stroke="#000" stroke-width="1.4" />
<path d="M371.4 328.74L374.9 332.24L371.4 335.74L367.9 332.24Z" fill="#fff" stroke="#000" stroke-width="1.4" />
<path d="M391.95 327.58L395.45 331.08L391.95 334.58L388.45 331.08Z" fill="#fff" stroke="#000" stroke-width="1.4" />
<path d="M412.5 330.49L416 333.99L412.5 337.49L409 333.99Z" fill="#fff" stroke="#000" stroke-width="1.4" />
<path d="M433.05 333.98L436.55 337.48L433.05 340.98L429.55 337.48Z" fill="#fff" stroke="#000" stroke-width="1.4" />
<path d="M453.6 338.06L457.1 341.56L453.6 345.06L450.1 341.56Z" fill="#fff" stroke="#000" stroke-width="1.4" />
<path d="M474.15 339.8L477.65 343.3L474.15 346.8L470.65 343.3Z" fill="#fff" stroke="#000" stroke-width="1.4" />
<line x1="326.8" y1="329.92" x2="333.8" y2="329.92" stroke="#000" stroke-width="1.5" />
<line x1="330.3" y1="326.42" x2="330.3" y2="333.42" stroke="#000" stroke-width="1.5" />
<line x1="347.35" y1="326.42" x2="354.35" y2="326.42" stroke="#000" stroke-width="1.5" />
<line x1="350.85" y1="322.92" x2="350.85" y2="329.92" stroke="#000" stroke-width="1.5" />
<line x1="367.9" y1="325.26" x2="374.9" y2="325.26" stroke="#000" stroke-width="1.5" />
<line x1="371.4" y1="321.76" x2="371.4" y2="328.76" stroke="#000" stroke-width="1.5" />
<line x1="388.45" y1="321.19" x2="395.45" y2="321.19" stroke="#000" stroke-width="1.5" />
<line x1="391.95" y1="317.69" x2="391.95" y2="324.69" stroke="#000" stroke-width="1.5" />
<line x1="409" y1="328.17" x2="416" y2="328.17" stroke="#000" stroke-width="1.5" />
<line x1="412.5" y1="324.67" x2="412.5" y2="331.67" stroke="#000" stroke-width="1.5" />
<line x1="429.55" y1="335.74" x2="436.55" y2="335.74" stroke="#000" stroke-width="1.5" />
<line x1="433.05" y1="332.24" x2="433.05" y2="339.24" stroke="#000" stroke-width="1.5" />
<line x1="450.1" y1="339.81" x2="457.1" y2="339.81" stroke="#000" stroke-width="1.5" />
<line x1="453.6" y1="336.31" x2="453.6" y2="343.31" stroke="#000" stroke-width="1.5" />
<line x1="470.65" y1="333.41" x2="477.65" y2="333.41" stroke="#000" stroke-width="1.5" />
<line x1="474.15" y1="329.91" x2="474.15" y2="336.91" stroke="#000" stroke-width="1.5" />
<line x1="400.9" y1="390.3" x2="400.9" y2="403.5" stroke="#000" stroke-width="1.6" />
<path d="M397 392.3L400.9 382.8L404.8 392.3L400.9 390.59Z" fill="#000" stroke="none" stroke-width="1" />
<text x="400" y="417.2" font-size="11.6" text-anchor="middle" textLength="41.5" lengthAdjust="spacingAndGlyphs" >Stop PT</text>
<polyline points="487,329 491.6,329 491.6,348.4 487,348.4" stroke="#111" stroke-width="1.6" fill="none" stroke-linejoin="miter"/>
<polyline points="487,358.9 491.6,358.9 491.6,410.4 487,410.4" stroke="#111" stroke-width="1.6" fill="none" stroke-linejoin="miter"/>
<text x="0" y="0" font-size="11.5" text-anchor="middle" textLength="21" lengthAdjust="spacingAndGlyphs" transform="translate(506.6 338.5) rotate(-90)" >Cre-</text>
<text x="0" y="0" font-size="11.5" text-anchor="middle" textLength="24.2" lengthAdjust="spacingAndGlyphs" transform="translate(506.6 385) rotate(-90)" >Cre+</text>
<line x1="72.9" y1="514.5" x2="72.9" y2="711.6" stroke="#111" stroke-width="2" />
<line x1="72.1" y1="710.8" x2="142.7" y2="710.8" stroke="#111" stroke-width="2" />
<line x1="67.8" y1="710.8" x2="72.9" y2="710.8" stroke="#111" stroke-width="1.8" />
<text x="63.4" y="714.8" font-size="11.9" text-anchor="end" >0</text>
<line x1="67.8" y1="686.9" x2="72.9" y2="686.9" stroke="#111" stroke-width="1.8" />
<text x="63.4" y="690.9" font-size="11.9" text-anchor="end" >0.1</text>
<line x1="67.8" y1="663" x2="72.9" y2="663" stroke="#111" stroke-width="1.8" />
<text x="63.4" y="667" font-size="11.9" text-anchor="end" >0.2</text>
<line x1="67.8" y1="639.1" x2="72.9" y2="639.1" stroke="#111" stroke-width="1.8" />
<text x="63.4" y="643.1" font-size="11.9" text-anchor="end" >0.3</text>
<line x1="67.8" y1="615.2" x2="72.9" y2="615.2" stroke="#111" stroke-width="1.8" />
<text x="63.4" y="619.2" font-size="11.9" text-anchor="end" >0.4</text>
<line x1="67.8" y1="591.3" x2="72.9" y2="591.3" stroke="#111" stroke-width="1.8" />
<text x="63.4" y="595.3" font-size="11.9" text-anchor="end" >0.5</text>
<line x1="67.8" y1="567.4" x2="72.9" y2="567.4" stroke="#111" stroke-width="1.8" />
<text x="63.4" y="571.4" font-size="11.9" text-anchor="end" >0.6</text>
<line x1="67.8" y1="543.5" x2="72.9" y2="543.5" stroke="#111" stroke-width="1.8" />
<text x="63.4" y="547.5" font-size="11.9" text-anchor="end" >0.7</text>
<line x1="67.8" y1="519.6" x2="72.9" y2="519.6" stroke="#111" stroke-width="1.8" />
<text x="63.4" y="523.6" font-size="11.9" text-anchor="end" >0.8</text>
<rect x="81.6" y="687.1" width="11.6" height="23.7" fill="#fff" stroke="#920e3c" stroke-width="1.8" />
<rect x="94" y="687.1" width="12" height="23.7" fill="#fff" stroke="#2c3b6e" stroke-width="1.8" />
<rect x="106.6" y="543.5" width="14.2" height="167.3" fill="#aa002c" stroke="none" stroke-width="1" />
<rect x="120.1" y="567.4" width="12.7" height="143.4" fill="#2e4a82" stroke="none" stroke-width="1" />
<line x1="113.3" y1="533.94" x2="113.3" y2="553.06" stroke="#111" stroke-width="1.6" />
<line x1="109.8" y1="533.94" x2="116.8" y2="533.94" stroke="#111" stroke-width="1.6" />
<line x1="109.8" y1="553.06" x2="116.8" y2="553.06" stroke="#111" stroke-width="1.6" />
<line x1="126.1" y1="538.72" x2="126.1" y2="596.08" stroke="#111" stroke-width="1.6" />
<line x1="122.6" y1="538.72" x2="129.6" y2="538.72" stroke="#111" stroke-width="1.6" />
<line x1="122.6" y1="596.08" x2="129.6" y2="596.08" stroke="#111" stroke-width="1.6" />
<line x1="67.8" y1="710.8" x2="142.7" y2="710.8" stroke="#111" stroke-width="2" />
<text x="106.5" y="731" font-size="12.4" text-anchor="middle" textLength="38.4" lengthAdjust="spacingAndGlyphs" >Spleen</text>
<text x="0" y="0" font-size="13.4" text-anchor="middle" textLength="43.6" lengthAdjust="spacingAndGlyphs" transform="translate(36.3 613) rotate(-90)" >Size (g)</text>
<line x1="201.5" y1="514.2" x2="201.5" y2="709.2" stroke="#111" stroke-width="2" />
<line x1="196.4" y1="708.5" x2="201.5" y2="708.5" stroke="#111" stroke-width="1.8" />
<text x="191.3" y="712.5" font-size="11.9" text-anchor="end" >0</text>
<line x1="196.4" y1="681.5" x2="201.5" y2="681.5" stroke="#111" stroke-width="1.8" />
<text x="191.3" y="685.5" font-size="11.9" text-anchor="end" >10</text>
<line x1="196.4" y1="654.5" x2="201.5" y2="654.5" stroke="#111" stroke-width="1.8" />
<text x="191.3" y="658.5" font-size="11.9" text-anchor="end" >20</text>
<line x1="196.4" y1="627.5" x2="201.5" y2="627.5" stroke="#111" stroke-width="1.8" />
<text x="191.3" y="631.5" font-size="11.9" text-anchor="end" >30</text>
<line x1="196.4" y1="600.5" x2="201.5" y2="600.5" stroke="#111" stroke-width="1.8" />
<text x="191.3" y="604.5" font-size="11.9" text-anchor="end" >40</text>
<line x1="196.4" y1="573.5" x2="201.5" y2="573.5" stroke="#111" stroke-width="1.8" />
<text x="191.3" y="577.5" font-size="11.9" text-anchor="end" >50</text>
<line x1="196.4" y1="546.5" x2="201.5" y2="546.5" stroke="#111" stroke-width="1.8" />
<text x="191.3" y="550.5" font-size="11.9" text-anchor="end" >60</text>
<line x1="196.4" y1="519.5" x2="201.5" y2="519.5" stroke="#111" stroke-width="1.8" />
<text x="191.3" y="523.5" font-size="11.9" text-anchor="end" >70</text>
<rect x="208.95" y="689.66" width="9.6" height="18.84" fill="#fff" stroke="#920e3c" stroke-width="1.8" />
<line x1="213.65" y1="687.44" x2="213.65" y2="690.68" stroke="#111" stroke-width="1.6" />
<line x1="210.65" y1="687.44" x2="216.65" y2="687.44" stroke="#111" stroke-width="1.6" />
<line x1="210.65" y1="690.68" x2="216.65" y2="690.68" stroke="#111" stroke-width="1.6" />
<rect x="219.85" y="685.34" width="9.6" height="23.16" fill="#fff" stroke="#2c3b6e" stroke-width="1.8" />
<rect x="230.3" y="535.7" width="11.9" height="172.8" fill="#aa002c" stroke="none" stroke-width="1" />
<line x1="235.85" y1="532.73" x2="235.85" y2="538.67" stroke="#111" stroke-width="1.6" />
<line x1="232.85" y1="532.73" x2="238.85" y2="532.73" stroke="#111" stroke-width="1.6" />
<line x1="232.85" y1="538.67" x2="238.85" y2="538.67" stroke="#111" stroke-width="1.6" />
<rect x="241.4" y="538.4" width="11.1" height="170.1" fill="#2e4a82" stroke="none" stroke-width="1" />
<line x1="246.95" y1="526.52" x2="246.95" y2="550.28" stroke="#111" stroke-width="1.6" />
<line x1="243.95" y1="526.52" x2="249.95" y2="526.52" stroke="#111" stroke-width="1.6" />
<line x1="243.95" y1="550.28" x2="249.95" y2="550.28" stroke="#111" stroke-width="1.6" />
<rect x="266.45" y="701" width="9.6" height="7.5" fill="#fff" stroke="#920e3c" stroke-width="1.8" />
<line x1="271.15" y1="699.59" x2="271.15" y2="701.21" stroke="#111" stroke-width="1.6" />
<line x1="268.15" y1="699.59" x2="274.15" y2="699.59" stroke="#111" stroke-width="1.6" />
<line x1="268.15" y1="701.21" x2="274.15" y2="701.21" stroke="#111" stroke-width="1.6" />
<rect x="277.35" y="700.46" width="9.6" height="8.04" fill="#fff" stroke="#2c3b6e" stroke-width="1.8" />
<rect x="287.8" y="702.02" width="11.9" height="6.48" fill="#aa002c" stroke="none" stroke-width="1" />
<line x1="293.35" y1="700.4" x2="293.35" y2="703.64" stroke="#111" stroke-width="1.6" />
<line x1="290.35" y1="700.4" x2="296.35" y2="700.4" stroke="#111" stroke-width="1.6" />
<line x1="290.35" y1="703.64" x2="296.35" y2="703.64" stroke="#111" stroke-width="1.6" />
<rect x="298.9" y="700.94" width="11.1" height="7.56" fill="#2e4a82" stroke="none" stroke-width="1" />
<line x1="304.45" y1="699.59" x2="304.45" y2="702.29" stroke="#111" stroke-width="1.6" />
<line x1="301.45" y1="699.59" x2="307.45" y2="699.59" stroke="#111" stroke-width="1.6" />
<line x1="301.45" y1="702.29" x2="307.45" y2="702.29" stroke="#111" stroke-width="1.6" />
<rect x="323.95" y="646.19" width="9.6" height="62.31" fill="#fff" stroke="#920e3c" stroke-width="1.8" />
<line x1="328.65" y1="642.35" x2="328.65" y2="648.83" stroke="#111" stroke-width="1.6" />
<line x1="325.65" y1="642.35" x2="331.65" y2="642.35" stroke="#111" stroke-width="1.6" />
<line x1="325.65" y1="648.83" x2="331.65" y2="648.83" stroke="#111" stroke-width="1.6" />
<rect x="334.85" y="654.29" width="9.6" height="54.21" fill="#fff" stroke="#2c3b6e" stroke-width="1.8" />
<rect x="345.3" y="694.73" width="11.9" height="13.77" fill="#aa002c" stroke="none" stroke-width="1" />
<line x1="350.85" y1="693.65" x2="350.85" y2="695.81" stroke="#111" stroke-width="1.6" />
<line x1="347.85" y1="693.65" x2="353.85" y2="693.65" stroke="#111" stroke-width="1.6" />
<line x1="347.85" y1="695.81" x2="353.85" y2="695.81" stroke="#111" stroke-width="1.6" />
<rect x="356.4" y="704.18" width="11.1" height="4.32" fill="#2e4a82" stroke="none" stroke-width="1" />
<line x1="361.95" y1="703.37" x2="361.95" y2="704.99" stroke="#111" stroke-width="1.6" />
<line x1="358.95" y1="703.37" x2="364.95" y2="703.37" stroke="#111" stroke-width="1.6" />
<line x1="358.95" y1="704.99" x2="364.95" y2="704.99" stroke="#111" stroke-width="1.6" />
<line x1="200.5" y1="708.5" x2="378.9" y2="708.5" stroke="#111" stroke-width="2" />
<line x1="201.5" y1="708.5" x2="201.5" y2="713.3" stroke="#111" stroke-width="1.8" />
<line x1="259" y1="708.5" x2="259" y2="713.3" stroke="#111" stroke-width="1.8" />
<line x1="316.5" y1="708.5" x2="316.5" y2="713.3" stroke="#111" stroke-width="1.8" />
<line x1="374" y1="708.5" x2="374" y2="713.3" stroke="#111" stroke-width="1.8" />
<text x="230.2" y="728.9" font-size="12.3" text-anchor="middle" textLength="38.6" lengthAdjust="spacingAndGlyphs" >CD71+</text>
<text x="230.4" y="743.6" font-size="12.3" text-anchor="middle" textLength="51.2" lengthAdjust="spacingAndGlyphs" >TER119+</text>
<text x="287.6" y="728.9" font-size="12.3" text-anchor="middle" textLength="31.6" lengthAdjust="spacingAndGlyphs" >GR1+</text>
<text x="287.8" y="743.6" font-size="12.3" text-anchor="middle" textLength="44" lengthAdjust="spacingAndGlyphs" >CD11b+</text>
<text x="345" y="728.9" font-size="12.3" text-anchor="middle" textLength="38.6" lengthAdjust="spacingAndGlyphs" >CD19+</text>
<text x="345.3" y="743.6" font-size="12.3" text-anchor="middle" textLength="27.6" lengthAdjust="spacingAndGlyphs" >IgM+</text>
<text x="0" y="0" font-size="12.6" text-anchor="middle" textLength="63.6" lengthAdjust="spacingAndGlyphs" transform="translate(168.4 611.2) rotate(-90)" >Percentage</text>
<rect x="393.9" y="580.2" width="6.8" height="6.8" fill="#fff" stroke="#920e3c" stroke-width="1.6" />
<text x="405.8" y="586.6" font-size="11.6" >Cre- DMSO</text>
<rect x="393.9" y="601.6" width="6.8" height="6.8" fill="#fff" stroke="#2c3b6e" stroke-width="1.6" />
<text x="405.8" y="608" font-size="11.6" >Cre- PT</text>
<rect x="393.1" y="622.2" width="8.2" height="8.2" fill="#aa002c" stroke="none" stroke-width="1" />
<text x="405.8" y="629.4" font-size="11.6" >Cre+ DMSO</text>
<rect x="393.1" y="643.6" width="8.2" height="8.2" fill="#2e4a82" stroke="none" stroke-width="1" />
<text x="405.8" y="650.8" font-size="11.6" >Cre+ PT</text>
</g>
<path d="M0 0H520V758H0Z M2 2V755.5H518V2Z" fill="#000" stroke="none" stroke-width="1" fill-rule="evenodd"/>
</svg></body></html>
